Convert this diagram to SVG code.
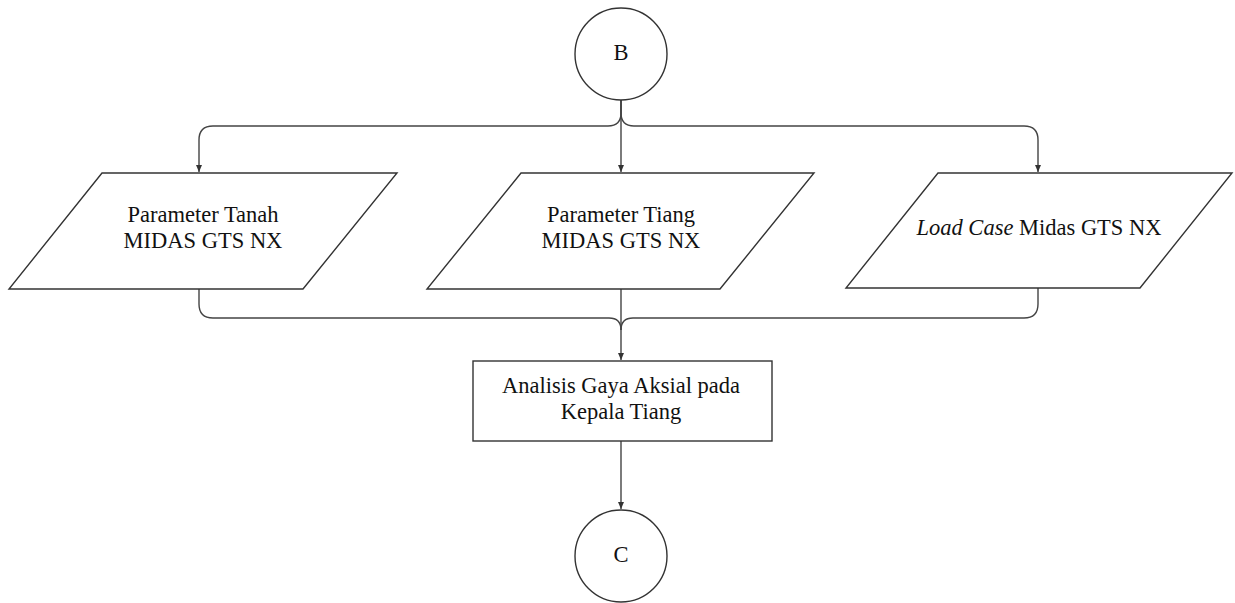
<svg xmlns="http://www.w3.org/2000/svg" width="1235" height="603" viewBox="0 0 1235 603">
<style>
.shape{fill:#fff;stroke:#333;stroke-width:1.4}
.conn{fill:none;stroke:#444;stroke-width:1.4}
text{font-family:"Liberation Serif","Times New Roman",serif;font-size:22.5px;fill:#111;text-anchor:middle}
.it{font-style:italic}
</style>
<defs>
<marker id="arr" markerWidth="8" markerHeight="8" refX="7" refY="4" orient="auto" markerUnits="userSpaceOnUse">
<path d="M0,1 L7,4 L0,7 Z" fill="#333"/>
</marker>
</defs>
<rect width="1235" height="603" fill="#fff"/>
<g id="connectors">
<path class="conn" d="M621,100 L621,172" marker-end="url(#arr)"/>
<path class="conn" d="M621,100 L621,113 Q621,126 608,126 L213,126 Q199,126 199,140 L199,172" marker-end="url(#arr)"/>
<path class="conn" d="M621,100 L621,113 Q621,126 634,126 L1024,126 Q1038,126 1038,140 L1038,172" marker-end="url(#arr)"/>
<path class="conn" d="M621,289 L621,360" marker-end="url(#arr)"/>
<path class="conn" d="M199,289 L199,304 Q199,318 213,318 L609,318 Q621,318 621,330"/>
<path class="conn" d="M1038,288 L1038,304 Q1038,318 1024,318 L633,318 Q621,318 621,330"/>
<path class="conn" d="M621,441 L621,509" marker-end="url(#arr)"/>
</g>
<g id="node-B">
<circle class="shape" cx="621" cy="54" r="46"/>
<text x="621" y="60">B</text>
</g>
<g id="node-tanah">
<polygon class="shape" points="102,173 397,173 303,289 9,289"/>
<text x="203" y="222">Parameter Tanah</text>
<text x="203" y="248">MIDAS GTS NX</text>
</g>
<g id="node-tiang">
<polygon class="shape" points="521,173 814,173 720,289 427,289"/>
<text x="621" y="222">Parameter Tiang</text>
<text x="621" y="248">MIDAS GTS NX</text>
</g>
<g id="node-loadcase">
<polygon class="shape" points="938,173 1232,173 1140,288 846,288"/>
<text x="1039" y="235"><tspan class="it">Load Case</tspan> Midas GTS NX</text>
</g>
<g id="node-analisis">
<rect class="shape" x="473" y="361" width="299" height="80"/>
<text x="621" y="393">Analisis Gaya Aksial pada</text>
<text x="621" y="419">Kepala Tiang</text>
</g>
<g id="node-C">
<circle class="shape" cx="621" cy="556" r="46"/>
<text x="621" y="562">C</text>
</g>
</svg>
